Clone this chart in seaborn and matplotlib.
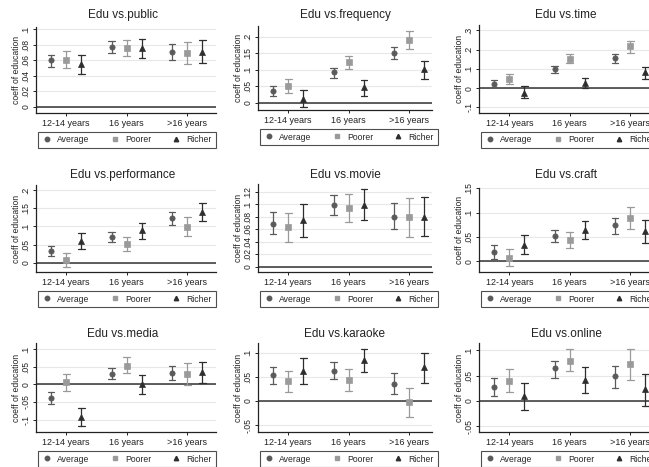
import numpy as np
import pandas as pd
import matplotlib
matplotlib.use("Agg")
import matplotlib.pyplot as plt
import seaborn as sns
from matplotlib.lines import Line2D

# ---------------- data ----------------
categories = ["12-14 years", "16 years", ">16 years"]
groups = ["Average", "Poorer", "Richer"]
panel_keys = ["public", "frequency", "time", "performance", "movie",
              "craft", "media", "karaoke", "online"]
titles = ["Edu vs." + k for k in panel_keys]

# rows: Average, Poorer, Richer ; columns: categories
public_est = [[0.060, 0.077, 0.071], [0.060, 0.076, 0.070], [0.055, 0.076, 0.071]]
public_lo = [[0.051, 0.069, 0.060], [0.050, 0.065, 0.055], [0.042, 0.063, 0.057]]
public_hi = [[0.067, 0.085, 0.081], [0.072, 0.086, 0.084], [0.067, 0.087, 0.086]]

frequency_est = [[0.037, 0.092, 0.152], [0.052, 0.123, 0.190], [0.013, 0.047, 0.102]]
frequency_lo = [[0.020, 0.075, 0.132], [0.030, 0.102, 0.162], [-0.013, 0.022, 0.072]]
frequency_hi = [[0.052, 0.107, 0.170], [0.073, 0.143, 0.218], [0.038, 0.070, 0.128]]

time_est = [[0.022, 0.098, 0.155], [0.048, 0.152, 0.219], [-0.026, 0.026, 0.086]]
time_lo = [[0.005, 0.078, 0.129], [0.022, 0.129, 0.184], [-0.050, 0.000, 0.048]]
time_hi = [[0.040, 0.115, 0.176], [0.074, 0.176, 0.247], [0.012, 0.052, 0.112]]

performance_est = [[0.032, 0.072, 0.122], [0.007, 0.053, 0.099], [0.061, 0.090, 0.140]]
performance_lo = [[0.018, 0.058, 0.104], [-0.011, 0.033, 0.073], [0.039, 0.067, 0.115]]
performance_hi = [[0.047, 0.085, 0.139], [0.028, 0.072, 0.125], [0.083, 0.110, 0.165]]

movie_est = [[0.069, 0.098, 0.080], [0.063, 0.094, 0.079], [0.074, 0.099, 0.079]]
movie_lo = [[0.052, 0.082, 0.060], [0.040, 0.072, 0.048], [0.047, 0.074, 0.050]]
movie_hi = [[0.087, 0.114, 0.102], [0.086, 0.116, 0.109], [0.100, 0.124, 0.111]]

craft_est = [[0.019, 0.053, 0.074], [0.007, 0.043, 0.089], [0.034, 0.064, 0.063]]
craft_lo = [[0.005, 0.040, 0.057], [-0.010, 0.027, 0.067], [0.015, 0.045, 0.038]]
craft_hi = [[0.033, 0.065, 0.089], [0.025, 0.060, 0.112], [0.055, 0.084, 0.086]]

media_est = [[-0.038, 0.029, 0.033], [0.006, 0.053, 0.028], [-0.092, 0.001, 0.034]]
media_lo = [[-0.056, 0.014, 0.012], [-0.018, 0.031, -0.002], [-0.118, -0.026, 0.003]]
media_hi = [[-0.021, 0.045, 0.053], [0.028, 0.076, 0.060], [-0.066, 0.025, 0.063]]

karaoke_est = [[0.053, 0.063, 0.035], [0.042, 0.043, -0.003], [0.063, 0.084, 0.070]]
karaoke_lo = [[0.035, 0.046, 0.015], [0.018, 0.021, -0.033], [0.035, 0.060, 0.038]]
karaoke_hi = [[0.070, 0.080, 0.057], [0.063, 0.066, 0.028], [0.090, 0.108, 0.099]]

online_est = [[0.028, 0.064, 0.049], [0.040, 0.079, 0.072], [0.009, 0.041, 0.023]]
online_lo = [[0.010, 0.046, 0.026], [0.018, 0.058, 0.041], [-0.017, 0.015, -0.010]]
online_hi = [[0.046, 0.079, 0.069], [0.063, 0.102, 0.102], [0.036, 0.066, 0.053]]

public_ticks = [0, 0.02, 0.04, 0.06, 0.08, 0.1]
frequency_ticks = [0, 0.05, 0.1, 0.15, 0.2]
time_ticks = [-0.1, 0, 0.1, 0.2, 0.3]
performance_ticks = [0, 0.05, 0.1, 0.15, 0.2]
movie_ticks = [0, 0.02, 0.04, 0.06, 0.08, 0.1, 0.12]
craft_ticks = [0, 0.05, 0.1, 0.15]
media_ticks = [-0.1, -0.05, 0, 0.05, 0.1]
karaoke_ticks = [-0.05, 0, 0.05, 0.1]
online_ticks = [-0.05, 0, 0.05, 0.1]

ylims = [(-0.008, 0.103), (-0.021, 0.232), (-0.129, 0.328),
         (-0.025, 0.214), (-0.008, 0.132), (-0.022, 0.151),
         (-0.135, 0.117), (-0.064, 0.120), (-0.061, 0.114)]

est_all = [public_est, frequency_est, time_est, performance_est, movie_est,
           craft_est, media_est, karaoke_est, online_est]
lo_all = [public_lo, frequency_lo, time_lo, performance_lo, movie_lo,
          craft_lo, media_lo, karaoke_lo, online_lo]
hi_all = [public_hi, frequency_hi, time_hi, performance_hi, movie_hi,
          craft_hi, media_hi, karaoke_hi, online_hi]
ticks_all = [public_ticks, frequency_ticks, time_ticks, performance_ticks,
             movie_ticks, craft_ticks, media_ticks, karaoke_ticks, online_ticks]

palette = {"Average": "#5a5a5a", "Poorer": "#9a9a9a", "Richer": "#2e2e2e"}
markers = ["o", "s", "^"]

# ---------------- style ----------------
sns.set_theme(style="white")
plt.rcParams["font.family"] = ["Liberation Sans", "DejaVu Sans"]

W, H = 649, 467
fig = plt.figure(figsize=(W / 100, H / 100), dpi=100)
fig.patch.set_facecolor("white")

col_left = [36, 258, 479]
col_right = [216, 432, 649]
row_box = [[(27, 113), (26, 110), (25, 113)],
           [(185, 272), (184, 272), (188, 272)],
           [(343, 432), (343, 432), (343, 432)]]
title_y = [15, 175, 334]
cat_px = 60.5


def fmt(v):
    s = f"{v:g}"
    s = s.replace("0.", ".")
    return s


def long_df(est, lo, hi):
    rows = []
    for gi, g in enumerate(groups):
        for ci, c in enumerate(categories):
            for v in (lo[gi][ci], est[gi][ci], hi[gi][ci]):
                rows.append({"cat": c, "group": g, "value": v})
    return pd.DataFrame(rows)


for i in range(9):
    r, c = divmod(i, 3)
    l, rr = col_left[c], col_right[c]
    t, b = row_box[r][c]
    axw, axh = rr - l, b - t
    ax = fig.add_axes([l / W, 1 - b / H, axw / W, axh / H])
    df = long_df(est_all[i], lo_all[i], hi_all[i])

    ax.yaxis.grid(True, color="#e8e8e8", linewidth=0.8)
    ax.set_axisbelow(True)
    ax.axhline(0, color="#333333", linewidth=1.1, zorder=1)

    sns.pointplot(data=df, x="cat", y="value", hue="group", order=categories,
                  hue_order=groups, palette=palette, markers=markers,
                  linestyle="none", dodge=0.5, estimator="median",
                  errorbar=lambda v: (np.min(v), np.max(v)), capsize=0.11,
                  err_kws={"linewidth": 0.9}, markersize=3.8,
                  markeredgewidth=0.5, legend=False, ax=ax)

    ax.set_xlim(-0.5, -0.5 + axw / cat_px)
    ax.set_ylim(*ylims[i])
    ax.set_yticks(ticks_all[i])
    ax.set_yticklabels([fmt(v) for v in ticks_all[i]], rotation=90,
                       va="center", fontsize=6.2, color="#222222")
    ax.set_xticks(range(len(categories)))
    ax.set_xticklabels(categories, fontsize=6.5, color="#222222")
    ax.tick_params(axis="both", length=2.5, width=0.7, color="#222222",
                   pad=1.5, direction="out", left=True, bottom=True)
    ax.set_xlabel("")
    ax.set_ylabel("coeff of education", fontsize=6.2, color="#222222")
    ax.yaxis.set_label_coords(-15 / axw, 0.5)
    for s in ["top", "right"]:
        ax.spines[s].set_visible(False)
    for s in ["left", "bottom"]:
        ax.spines[s].set_color("#222222")
        ax.spines[s].set_linewidth(0.9)

    ax.text((87) / axw, 1 + (t - title_y[r]) / axh, titles[i],
            transform=ax.transAxes, ha="center", va="center",
            fontsize=8.5, color="#222222")

    handles = [Line2D([0], [0], marker=m, linestyle="none",
                      color=palette[g], markersize=3.2)
               for g, m in zip(groups, markers)]
    lw_frac = 178 / axw
    leg = ax.legend(handles, groups, loc="center", ncol=3, mode="expand",
                    bbox_to_anchor=(2 / axw, -(20 + 7) / axh, lw_frac, 0),
                    fontsize=6.2, frameon=True, fancybox=False,
                    borderpad=0.45, handletextpad=0.6, handlelength=1.2,
                    borderaxespad=0)
    leg.get_frame().set_edgecolor("#222222")
    leg.get_frame().set_linewidth(0.8)

fig.savefig("out.png", dpi=100, facecolor="white")
